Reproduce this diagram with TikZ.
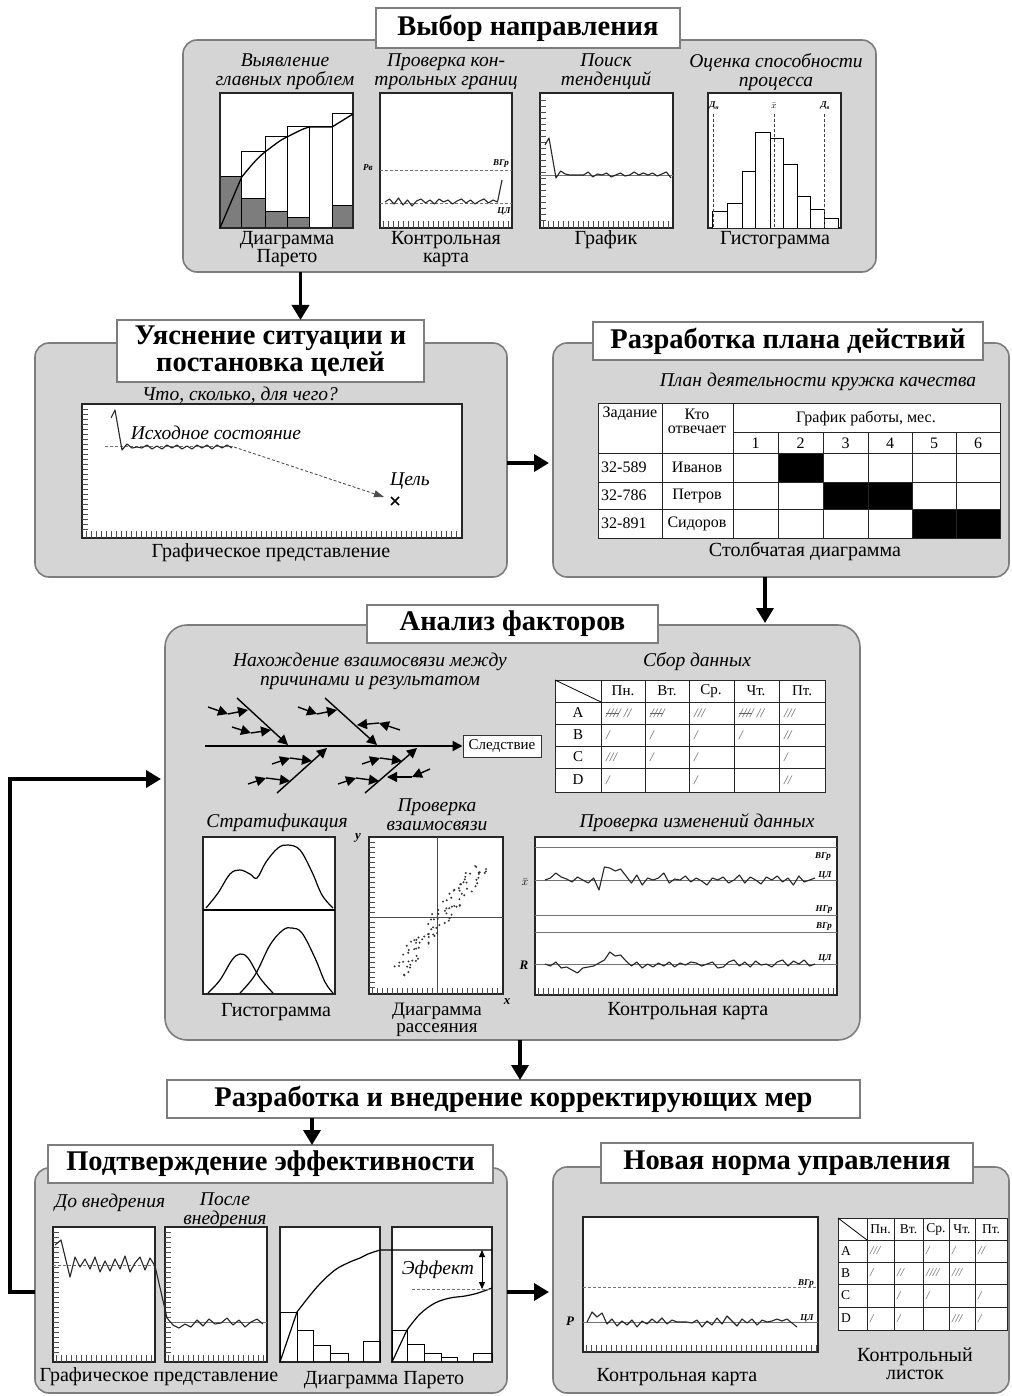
\documentclass[tikz,border=0pt]{standalone}
\usepackage{fontspec}
\setmainfont{Liberation Serif}
\usetikzlibrary{arrows.meta,calc}
\definecolor{panelgray}{RGB}{213,213,213}
\definecolor{edgegray}{RGB}{125,125,125}
\definecolor{tallygray}{RGB}{95,95,95}
\definecolor{bardark}{RGB}{125,125,125}
\newcommand{\tallyfive}{\rlap{\raisebox{3.2pt}{\rule{13pt}{0.9pt}}}////}
\begin{document}
\begin{tikzpicture}[x=1pt,y=-1pt,
  panel/.style={fill=panelgray,draw=edgegray,line width=1.6pt,rounded corners=14pt,inner sep=0pt,outer sep=0pt},
  titlebox/.style={fill=white,draw=edgegray,line width=1.4pt,inner sep=0pt,outer sep=0pt,align=center,font=\fontsize{28.5}{27}\selectfont\bfseries},
  chart/.style={fill=white,draw=black!85,line width=1.3pt},
  capt/.style={font=\fontsize{20}{18}\selectfont,align=center,inner sep=0pt},
  subt/.style={font=\fontsize{19.5}{19}\selectfont\itshape,align=center,inner sep=0pt},
  tabt/.style={font=\fontsize{16}{14}\selectfont,inner sep=0pt,align=center},
  tinylab/.style={font=\fontsize{9}{9}\selectfont\itshape\bfseries,inner sep=0pt},
  tally/.style={font=\fontsize{13}{13}\selectfont\itshape,text=tallygray,inner sep=0pt,anchor=west},
  bigarrow/.style={-{Triangle[length=15pt,width=17pt]},line width=3.6pt},
  fish/.style={-{Triangle[length=10pt,width=10pt]},line width=1.4pt},
  dataline/.style={line width=1.1pt,line join=round,black!85},
  guide/.style={line width=0.7pt,black!55},
  dashline/.style={line width=0.8pt,black!55,dash pattern=on 3pt off 2pt},
  tickmark/.style={line width=0.6pt,black!70},
  gridline/.style={line width=1pt,black!85},
]
\fill[white] (0,0) rectangle (1011,1396);
\useasboundingbox (0,0) rectangle (1011,1396);

%================ PANEL 1 ================
\node[panel,minimum width=693pt,minimum height=232pt] (p1) at (529.5,156) {};
\node[titlebox,minimum width=304pt,minimum height=40pt] (t1) at (528,28) {Выбор направления};
\node[subt] (s11) at (285,72) {Выявление\\главных проблем};
\node[subt] (s12) at (446,72) {Проверка кон-\\трольных границ};
\node[subt] (s13) at (606,72) {Поиск\\тенденций};
\node[subt] (s14) at (776,72) {Оценка способности\\процесса};
% pareto
\draw[chart] (220,93) rectangle (353,228);
\foreach \ua/\ub/\ut/\ud in {220/241.7/177/177,241.7/265/152/199,265/287/137/212,287/309/127/218,309/332/127/228,332/353/114/206}{
  \fill[bardark] (\ua,\ud) rectangle (\ub,228);
  \draw[line width=1pt] (\ua,228) -- (\ua,\ut) -- (\ub,\ut) -- (\ub,228);
  \draw[line width=1pt] (\ua,\ud) -- (\ub,\ud);
}
\draw[chart,fill=none] (220,93) rectangle (353,228);
\draw[line width=1.3pt,line join=round] (220,228) -- (241.7,177) .. controls (250,167) and (257,158) .. (265,152) .. controls (273,146) and (280,140) .. (287,137) .. controls (295,133) and (302,129) .. (309,127) -- (332,127) -- (353,114);
\node[capt] (c11) at (287,249) {Диаграмма\\Парето};
% control chart
\draw[chart] (380,93) rectangle (512,228);
\foreach \k in {383,388,...,510} \draw[tickmark] (\k,228) -- (\k,221);
\draw[dashline] (380,170) -- (512,170);
\draw[dashline] (380,203) -- (512,203);
\draw[dataline] (385,202) \foreach \d [count=\i] in {-3,2,-4,3,-2,4,-1,-3,1,-2,2,-3,0,-2,2,-1,-3,1,-2,2,-1,-3,1,-2,0} { -- ({385+\i*4.5},{202+\d}) } -- (502,180);
\node[tinylab] (l12a) at (368,168) {Рв};
\node[tinylab] (l12b) at (501,164) {ВГр};
\node[tinylab] (l12c) at (504,212) {ЦЛ};
\node[capt] (c12) at (446,249) {Контрольная\\карта};
% graph
\draw[chart] (540,93) rectangle (673,228);
\foreach \k in {100,106,...,220} \draw[tickmark] (540,\k) -- (546,\k);
\foreach \k in {543,548,...,670} \draw[tickmark] (\k,228) -- (\k,221);
\draw[guide] (540,175) -- (673,175);
\draw[dataline] (545,145) -- (549,138) -- (556,178) \foreach \d [count=\i] in {-4,-1,0,0,0,0,-3,2,-1,0,-2,2,0,-2,1,0,-3,0,-2,0,-2,1,-1,-3,3} { -- ({556+\i*4.6},{175+\d}) };
\node[capt] (c13) at (606,240) {График};
% histogram
\draw[chart] (708,93) rectangle (841,228);
\foreach \ua/\ub/\ut in {712/727/212,727/742/204,742/755/172,755/770/133,770/783/139,783/797/165,797/810/197,810/824/210,824/838/219}
  \draw[line width=1pt,fill=white] (\ua,228) -- (\ua,\ut) -- (\ub,\ut) -- (\ub,228);
\foreach \k in {713,774,824} \draw[dashline,black!75] (\k,114) -- (\k,228);
\node[tinylab] (l14a) at (714,106) {Д\raisebox{-1.5pt}{\fontsize{6}{6}\selectfont н}};
\node[tinylab] (l14b) at (774,106) {$\bar{x}$};
\node[tinylab] (l14c) at (825,106) {Д\raisebox{-1.5pt}{\fontsize{6}{6}\selectfont в}};
\node[capt] (c14) at (775,240) {Гистограмма};

%================ PANEL 2 (left) ================
\node[panel,minimum width=472pt,minimum height=234pt] (p2) at (271,460) {};
\node[titlebox,minimum width=307pt,minimum height=62pt] (t2) at (270.5,351) {Уяснение ситуации и\\постановка целей};
\node[subt] (s21) at (240,395) {Что, сколько, для чего?};
\draw[chart] (82,404) rectangle (462,538);
\foreach \k in {409,414,...,529} \draw[tickmark] (82,\k) -- (88,\k);
\foreach \k in {86,91,...,460} \draw[tickmark] (\k,538) -- (\k,531);
\draw[dashline] (105,446) -- (233,446);
\draw[dataline] (111,418) -- (115,410) -- (122,450) \foreach \d [count=\i] in {-3,1,0,1,-2,2,-1,2,-2,1,-2,2,-1,2,-2,1,-2,2,-2,1,-2,1} { -- ({122+\i*5},{447+\d}) };
\draw[dashline,black!70,-{Triangle[length=10pt,width=7pt]}] (234,447) -- (384,497);
\draw[line width=1.6pt] (391,497) -- (399,505) (391,505) -- (399,497);
\node[subt] (n21) at (216,433) {Исходное состояние};
\node[subt] (n22) at (410,481) {Цель};
\node[capt] (c21) at (271,553) {Графическое представление};

%================ PANEL 3 (right) ================
\node[panel,minimum width=456pt,minimum height=234pt] (p3) at (781,460) {};
\node[titlebox,minimum width=390pt,minimum height=38pt] (t3) at (788,341) {Разработка плана действий};
\node[subt] (s31) at (818,382) {План деятельности кружка качества};
\fill[white] (598,403) rectangle (1000,538);
\fill[black] (778,453) rectangle (823,482);
\fill[black] (823,482) rectangle (912,509);
\fill[black] (912,509) rectangle (1000,538);
\draw[gridline] (598,403) rectangle (1000,538);
\foreach \k in {662,733} \draw[gridline] (\k,403) -- (\k,538);
\foreach \k in {778,823,868,912,956} \draw[gridline] (\k,432) -- (\k,538);
\draw[gridline] (733,432) -- (1000,432);
\foreach \k in {453,482,509} \draw[gridline] (598,\k) -- (1000,\k);
\node[tabt] (g1) at (630,414) {Задание};
\node[tabt] (g2) at (697,421) {Кто\\отвечает};
\node[tabt] (g3) at (866,418) {График работы, мес.};
\foreach \m/\cx in {1/755.5,2/800.5,3/845.5,4/890,5/934,6/978} \node[tabt] (gm\m) at (\cx,443) {\m};
\node[tabt,anchor=west] (gr1) at (601,467.5) {32-589};
\node[tabt,anchor=west] (gr2) at (601,495.5) {32-786};
\node[tabt,anchor=west] (gr3) at (601,523.5) {32-891};
\node[tabt] (gn1) at (697,467.5) {Иванов};
\node[tabt] (gn2) at (697,495.5) {Петров};
\node[tabt] (gn3) at (697,523.5) {Сидоров};
\node[capt] (c31) at (805,551) {Столбчатая диаграмма};

%================ PANEL 4 ================
\node[panel,minimum width=695pt,minimum height=415pt,rounded corners=22pt] (p4) at (512.5,832.5) {};
\node[titlebox,minimum width=291pt,minimum height=38pt] (t4) at (512.5,624) {Анализ факторов};
% fishbone
\node[subt] (s41) at (370,671) {Нахождение взаимосвязи между\\причинами и результатом};
\node[draw=black!80,fill=white,line width=1pt,font=\fontsize{15}{15}\selectfont,inner sep=0pt,minimum width=78pt,minimum height=22pt] (fs) at (502,746) {Следствие};
\coordinate (spst) at (205,746);
\draw[fish,line width=2pt] (spst) -- (fs.west);
\draw[fish] (237,698) -- (288,745);
\draw[fish] (208,707) -- (228,714); \draw[fish] (228,714) -- (248,710);
\draw[fish] (232,727) -- (251,733); \draw[fish] (251,733) -- (271,730);
\draw[fish] (325,698) -- (377,745);
\draw[fish] (298,707) -- (317,714); \draw[fish] (317,714) -- (337,710);
\draw[fish] (400,730) -- (379,723); \draw[fish] (379,723) -- (357,725);
\draw[fish] (277,793) -- (327,748);
\draw[fish] (272,764) -- (290,758); \draw[fish] (290,758) -- (312,761);
\draw[fish] (248,784) -- (266,778); \draw[fish] (266,778) -- (290,781);
\draw[fish] (365,793) -- (417,748);
\draw[fish] (362,764) -- (380,758); \draw[fish] (380,758) -- (402,761);
\draw[fish] (338,784) -- (356,778); \draw[fish] (356,778) -- (379,781);
\draw[fish] (430,769) -- (412,777); \draw[fish] (412,777) -- (387,777);
% data table
\node[subt] (s45) at (697,662) {Сбор данных};
\fill[white] (555,680) rectangle (825,792);
\draw[gridline] (555,680) rectangle (825,792);
\foreach \k in {601,645,689,734,779} \draw[gridline] (\k,680) -- (\k,792);
\foreach \k in {702,724,746,768} \draw[gridline] (555,\k) -- (825,\k);
\draw[line width=0.8pt] (555,680) -- (601,702);
\node[tabt,font=\fontsize{15}{14}\selectfont] (dh1) at (623,691) {Пн.};
\node[tabt,font=\fontsize{15}{14}\selectfont] (dh2) at (667,691) {Вт.};
\node[tabt,font=\fontsize{15}{14}\selectfont] (dh3) at (711,691) {Ср.};
\node[tabt,font=\fontsize{15}{14}\selectfont] (dh4) at (756,691) {Чт.};
\node[tabt,font=\fontsize{15}{14}\selectfont] (dh5) at (802,691) {Пт.};
\node[tabt,font=\fontsize{15}{14}\selectfont] (dr1) at (578,713) {A};
\node[tabt,font=\fontsize{15}{14}\selectfont] (dr2) at (578,735) {B};
\node[tabt,font=\fontsize{15}{14}\selectfont] (dr3) at (578,757) {C};
\node[tabt,font=\fontsize{15}{14}\selectfont] (dr4) at (578,780) {D};
\node[tally] (da1) at (606,713) {\tallyfive\ //};
\node[tally] (da2) at (650,713) {\tallyfive};
\node[tally] (da3) at (694,713) {///};
\node[tally] (da4) at (739,713) {\tallyfive\ //};
\node[tally] (da5) at (784,713) {///};
\node[tally] (db1) at (606,735) {/};
\node[tally] (db2) at (650,735) {/};
\node[tally] (db3) at (694,735) {/};
\node[tally] (db4) at (739,735) {/};
\node[tally] (db5) at (784,735) {//};
\node[tally] (dc1) at (606,757) {///};
\node[tally] (dc2) at (650,757) {/};
\node[tally] (dc3) at (694,757) {/};
\node[tally] (dc5) at (784,757) {/};
\node[tally] (dd1) at (606,780) {/};
\node[tally] (dd3) at (694,780) {/};
\node[tally] (dd5) at (784,780) {//};
% stratification
\node[subt] (s42) at (277,823) {Стратификация};
\draw[chart] (203,837) rectangle (335,994);
\draw[line width=1.2pt] (203,910) -- (335,910);
\draw[line width=1.2pt] plot[smooth,tension=0.6] coordinates {(206,908) (218,893) (230,874) (240,870) (250,874) (257,878) (266,862) (278,848) (288,845) (300,850) (312,872) (322,895) (333,908)};
\draw[line width=1.2pt] plot[smooth,tension=0.6] coordinates {(208,993) (220,980) (232,960) (240,954) (248,958) (260,978) (273,993)};
\draw[line width=1.2pt] plot[smooth,tension=0.6] coordinates {(240,993) (255,975) (270,945) (283,930) (292,928) (302,933) (315,958) (325,982) (333,993)};
\node[capt] (c42) at (276,1012) {Гистограмма};
% scatter
\node[subt] (s43) at (437,815) {Проверка\\взаимосвязи};
\draw[chart] (369,837) rectangle (503,994);
\foreach \k in {842,847,...,990} \draw[tickmark] (369,\k) -- (375,\k);
\foreach \k in {372,377,...,500} \draw[tickmark] (\k,994) -- (\k,988);
\draw[guide,black!70] (437,837) -- (437,994);
\draw[guide,black!70] (369,917) -- (503,917);
\pgfmathsetseed{12}
\foreach \i in {1,...,95}{
  \pgfmathsetmacro{\tq}{\i/95}
  \pgfmathsetmacro{\rr}{6*rand}
  \pgfmathsetmacro{\sxx}{397+85*\tq+\rr+1.5*rand}
  \pgfmathsetmacro{\syy}{972-107*\tq+\rr+1.5*rand}
  \fill[black!80] (\sxx,\syy) circle (1.1pt);
}
\node[tinylab,font=\fontsize{13}{13}\selectfont\itshape\bfseries] (ly) at (358,838) {y};
\node[tinylab,font=\fontsize{13}{13}\selectfont\itshape\bfseries] (lx) at (507,1002) {x};
\node[capt,font=\fontsize{19}{17}\selectfont] (c43) at (437,1020) {Диаграмма\\рассеяния};
% control chart
\node[subt] (s44) at (697,823) {Проверка изменений данных};
\draw[chart] (535,837) rectangle (837,995);
\foreach \k in {847,880,915,932,964} \draw[guide] (535,\k) -- (837,\k);
\foreach \k in {538,543,...,835} \draw[tickmark] (\k,995) -- (\k,988);
\draw[dataline] (545,880) \foreach \d [count=\i] in {-2,-7,-3,-1,2,-3,0,3,-2,10,-13,-12,-9,-11,-4,3,-5,5,-2,0,-2,-7,3,-1,0,-4,2,-2,1,5,-2,0,-3,3,0,-5,3,-3,0,4,-3,0,-4,2,-2,5,-4,2,0,-2} { -- ({545+\i*5.4},{880+\d}) };
\draw[dataline] (545,964) \foreach \d [count=\i] in {2,-2,4,3,6,9,4,3,2,-1,-4,-12,-8,-9,-3,2,-2,4,0,3,-1,2,-2,3,-1,1,-2,-1,2,0,-2,4,3,-2,-4,2,-2,3,-3,1,0,3,-2,-4,2,-3,0,-4,2,0} { -- ({545+\i*5.4},{964+\d}) };
\node[tinylab] (l44a) at (823,857) {ВГр};
\node[tinylab] (l44b) at (825,876) {ЦЛ};
\node[tinylab] (l44c) at (824,910) {НГр};
\node[tinylab] (l44d) at (824,927) {ВГр};
\node[tinylab] (l44e) at (825,959) {ЦЛ};
\node[tinylab,font=\fontsize{13}{13}\selectfont\itshape\bfseries] (l44f) at (525,882) {$\bar{x}$};
\node[tinylab,font=\fontsize{13}{13}\selectfont\itshape\bfseries] (l44g) at (524,965) {R};
\node[capt] (c44) at (688,1011) {Контрольная карта};

%================ BAR ================
\node[titlebox,minimum width=693pt,minimum height=38pt] (b5) at (513.5,1099) {Разработка и внедрение корректирующих мер};

%================ PANEL 6 (bottom left) ================
\node[panel,minimum width=472pt,minimum height=225pt] (p6) at (271,1280.5) {};
\node[titlebox,minimum width=445pt,minimum height=38pt] (t6) at (270.5,1164) {Подтверждение эффективности};
\node[subt] (s61) at (110,1203) {До внедрения};
\node[subt] (s62) at (225,1211) {После\\внедрения};
\draw[chart] (53,1227) rectangle (155,1362);
\draw[chart] (165,1227) rectangle (267,1362);
\draw[chart] (280,1227) rectangle (380,1362);
\draw[chart] (392,1227) rectangle (492,1362);
\foreach \k in {1232,1237,...,1352} {\draw[tickmark] (53,\k) -- (59,\k); \draw[tickmark] (165,\k) -- (171,\k);}
\foreach \k in {56,61,...,153} \draw[tickmark] (\k,1362) -- (\k,1355);
\foreach \k in {168,173,...,265} \draw[tickmark] (\k,1362) -- (\k,1355);
\draw[dashline] (53,1265) -- (155,1265);
\draw[guide] (165,1322) -- (267,1322);
\draw[dataline] (55,1245) -- (61,1240) -- (70,1277) \foreach \d [count=\i] in {-10,0,-8,2,-10,5,-6,4,-8,2,-11,5,-4,-10,3,-9} { -- ({70+\i*5},{1267+\d}) } -- (155,1266) -- (167,1318) \foreach \d [count=\i] in {3,6,2,5,-2,4,-3,2,1,-4,3,-2,5,0,-3,2} { -- ({167+\i*6},{1322+\d}) };
% pareto before
\foreach \ua/\ub/\ut in {280/297/1312,297/313/1330,313/330/1345,330/348/1353,363/380/1341}
  \draw[line width=1pt] (\ua,1362) -- (\ua,\ut) -- (\ub,\ut) -- (\ub,1362);
\draw[line width=1.2pt] (280,1362) -- (297,1312) -- plot[smooth,tension=0.6] coordinates {(297,1312) (317,1287) (335,1270) (350,1262) (360,1258) (368,1254) (380,1250)} -- (492,1250);
% pareto after
\foreach \ua/\ub/\ut in {392/407/1330,407/424/1344,424/441/1353,441/457/1357,473/492/1353}
  \draw[line width=1pt] (\ua,1362) -- (\ua,\ut) -- (\ub,\ut) -- (\ub,1362);
\draw[line width=1.2pt] (392,1362) -- (407,1330) -- plot[smooth,tension=0.6] coordinates {(407,1330) (420,1314) (435,1303) (450,1298) (465,1296) (478,1293) (492,1288)};
\draw[dashline] (412,1289) -- (492,1289);
\draw[line width=1pt,{Triangle[length=7pt,width=6pt]}-{Triangle[length=7pt,width=6pt]}] (482,1250) -- (482,1289);
\node[subt] (n61) at (438,1270) {Эффект};
\node[capt] (c61) at (159,1377) {Графическое представление};
\node[capt] (c62) at (384,1380) {Диаграмма Парето};

%================ PANEL 7 (bottom right) ================
\node[panel,minimum width=456pt,minimum height=226pt] (p7) at (781,1280) {};
\node[titlebox,minimum width=372pt,minimum height=40pt] (t7) at (787,1163) {Новая норма управления};
\draw[chart] (583,1217) rectangle (818,1352);
\foreach \k in {586,591,...,816} \draw[tickmark] (\k,1352) -- (\k,1345);
\draw[dashline] (583,1287) -- (818,1287);
\draw[guide] (583,1322) -- (818,1322);
\draw[dataline] (587,1322) \foreach \d [count=\i] in {-10,-5,-9,2,-3,4,-1,3,-2,5,-1,2,-3,1,-4,2,-2,0,0,0,1,-2,5,-1,3,-4,2,-6,-1,4,-3,1,-3,3,-2,0,-1,-3,-1,-3,1,5} { -- ({587+\i*5},{1322+\d}) };
\node[tinylab] (l71a) at (806,1283) {ВГр};
\node[tinylab] (l71b) at (807,1318) {ЦЛ};
\node[tinylab,font=\fontsize{13}{13}\selectfont\itshape\bfseries] (l71c) at (570,1321) {P};
\node[capt] (c71) at (677,1377) {Контрольная карта};
\fill[white] (838,1218) rectangle (1007,1330);
\draw[gridline] (838,1218) rectangle (1007,1330);
\foreach \k in {867,894,923,949,975} \draw[gridline] (\k,1218) -- (\k,1330);
\foreach \k in {1240,1262,1284,1307} \draw[gridline] (838,\k) -- (1007,\k);
\draw[line width=0.8pt] (838,1218) -- (867,1240);
\node[tabt,font=\fontsize{13.5}{13}\selectfont] (eh1) at (880.5,1229) {Пн.};
\node[tabt,font=\fontsize{13.5}{13}\selectfont] (eh2) at (908.5,1229) {Вт.};
\node[tabt,font=\fontsize{13.5}{13}\selectfont] (eh3) at (936,1229) {Ср.};
\node[tabt,font=\fontsize{13.5}{13}\selectfont] (eh4) at (962,1229) {Чт.};
\node[tabt,font=\fontsize{13.5}{13}\selectfont] (eh5) at (991,1229) {Пт.};
\node[tabt,font=\fontsize{13.5}{13}\selectfont,anchor=west] (er1) at (841,1251) {A};
\node[tabt,font=\fontsize{13.5}{13}\selectfont,anchor=west] (er2) at (841,1273) {B};
\node[tabt,font=\fontsize{13.5}{13}\selectfont,anchor=west] (er3) at (841,1295.5) {C};
\node[tabt,font=\fontsize{13.5}{13}\selectfont,anchor=west] (er4) at (841,1318.5) {D};
\node[tally,font=\fontsize{12}{12}\selectfont\itshape] (ea1) at (870,1251) {///};
\node[tally,font=\fontsize{12}{12}\selectfont\itshape] (ea3) at (926,1251) {/};
\node[tally,font=\fontsize{12}{12}\selectfont\itshape] (ea4) at (952,1251) {/};
\node[tally,font=\fontsize{12}{12}\selectfont\itshape] (ea5) at (978,1251) {//};
\node[tally,font=\fontsize{12}{12}\selectfont\itshape] (eb1) at (870,1273) {/};
\node[tally,font=\fontsize{12}{12}\selectfont\itshape] (eb2) at (897,1273) {//};
\node[tally,font=\fontsize{12}{12}\selectfont\itshape] (eb3) at (926,1273) {////};
\node[tally,font=\fontsize{12}{12}\selectfont\itshape] (eb4) at (952,1273) {///};
\node[tally,font=\fontsize{12}{12}\selectfont\itshape] (ec2) at (897,1295.5) {/};
\node[tally,font=\fontsize{12}{12}\selectfont\itshape] (ec3) at (926,1295.5) {/};
\node[tally,font=\fontsize{12}{12}\selectfont\itshape] (ec5) at (978,1295.5) {/};
\node[tally,font=\fontsize{12}{12}\selectfont\itshape] (ed1) at (870,1318.5) {/};
\node[tally,font=\fontsize{12}{12}\selectfont\itshape] (ed2) at (897,1318.5) {/};
\node[tally,font=\fontsize{12}{12}\selectfont\itshape] (ed4) at (952,1318.5) {///};
\node[tally,font=\fontsize{12}{12}\selectfont\itshape] (ed5) at (978,1318.5) {/};
\node[capt] (c72) at (915,1364) {Контрольный\\листок};

%================ CONNECTORS ================
\draw[bigarrow] ($(p1.south -| t2.north)+(30,0)$) -- ($(t2.north)+(30,0)$);
\draw[bigarrow] ($(p2.east)+(0,3)$) -- ($(p3.west)+(-4,3)$);
\draw[bigarrow] ($(p3.south)+(-16,0)$) -- ($(p4.north)+(252.5,-2)$);
\draw[bigarrow] ($(p4.south)+(7.5,0)$) -- ($(b5.north)+(6.5,0)$);
\draw[bigarrow] ($(b5.south)+(-201.5,0)$) -- ($(t6.north)+(41.5,0)$);
\draw[bigarrow] ($(p6.east)+(0,11.5)$) -- ($(p7.west)+(-4,12)$);
\coordinate (lp1) at (10,1292);
\coordinate (lp2) at (10,779);
\draw[bigarrow] (p6.west |- lp1) -- (lp1) -- (lp2) -- ($(p4.west |- lp2)+(-4,0)$);
\end{tikzpicture}
\end{document}
